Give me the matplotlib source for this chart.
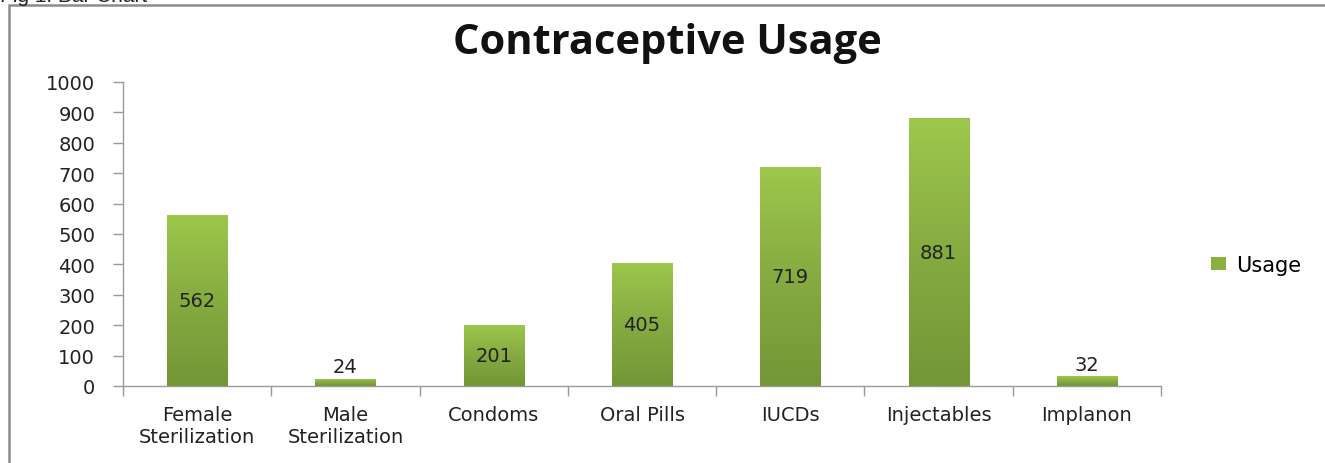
import matplotlib.pyplot as plt
import numpy as np
from matplotlib.colors import LinearSegmentedColormap
from matplotlib.patches import Rectangle, Patch

categories = ["Female\nSterilization", "Male\nSterilization", "Condoms", "Oral Pills",
              "IUCDs", "Injectables", "Implanon"]
usage = [562, 24, 201, 405, 719, 881, 32]
yticks = [0, 100, 200, 300, 400, 500, 600, 700, 800, 900, 1000]

W, H = 1325, 464
fig = plt.figure(figsize=(W / 100, H / 100), dpi=100)
fig.patch.set_facecolor("white")

# outer frame (only left and top edges visible)
fig.patches.append(Rectangle((9 / W, -0.2), 1.5, 1.2 - 6 / H, transform=fig.transFigure,
                             fill=False, edgecolor="#8c8c8c", linewidth=1.8))
# caption, mostly cut off by the top edge as in the source image
fig.text(0.0, 1 - 2 / H, "Fig 1: Bar Chart", fontsize=15, family="Liberation Sans",
         va="baseline", ha="left", color="#222222")

ax = fig.add_axes([123 / W, (H - 387) / H, (1161 - 123) / W, (387 - 83) / H])

x = np.arange(len(categories))
bars = ax.bar(x, usage, width=0.405, color="#8cb040", zorder=2)

cmap = LinearSegmentedColormap.from_list("grn", ["#739636", "#86ab41", "#9dc74c"])
grad = np.linspace(0, 1, 256).reshape(-1, 1)
for b in bars:
    x0, w, h = b.get_x(), b.get_width(), b.get_height()
    im = ax.imshow(grad, cmap=cmap, origin="lower", aspect="auto",
                   extent=[x0, x0 + w, 0, h], zorder=3)
    im.set_clip_path(b)
    b.set_facecolor("none")

for xi, v in zip(x, usage):
    if v < 60:
        ax.text(xi, v + 8, str(v), ha="center", va="bottom", fontsize=14, color="#222222", zorder=4)
    else:
        ax.text(xi, v / 2, str(v), ha="center", va="center", fontsize=14, color="#222222", zorder=4)

ax.set_xlim(-0.5, len(categories) - 0.5)
ax.set_ylim(0, 1000)
ax.set_yticks(yticks)
ax.set_yticklabels([str(t) for t in yticks])
ax.set_xticks(x)
ax.set_xticklabels(categories, fontsize=14, color="#222222", linespacing=1.15)
ax.set_xticks(np.arange(-0.5, len(categories)), minor=True)
ax.tick_params(axis="x", which="major", length=0, pad=14)
ax.tick_params(axis="x", which="minor", length=7, color="#9a9a9a", width=1)
ax.tick_params(axis="y", length=7, color="#9a9a9a", width=1, pad=13, labelsize=14, labelcolor="#222222")

for s in ["top", "right"]:
    ax.spines[s].set_visible(False)
for s in ["left", "bottom"]:
    ax.spines[s].set_color("#9a9a9a")
    ax.spines[s].set_linewidth(1)

fig.text(667 / W, 1 - 43 / H, "Contraceptive Usage", fontsize=30, fontweight="bold",
         family="Open Sans", ha="center", va="center", color="#111111")

handle = Patch(facecolor="#8cb040", edgecolor="none")
fig.legend([handle], ["Usage"], loc="center left", bbox_to_anchor=(1192 / W, 1 - 266 / H),
           frameon=False, fontsize=15, handlelength=0.75, handleheight=0.6, handletextpad=0.45)

fig.savefig("out.png", dpi=100)
